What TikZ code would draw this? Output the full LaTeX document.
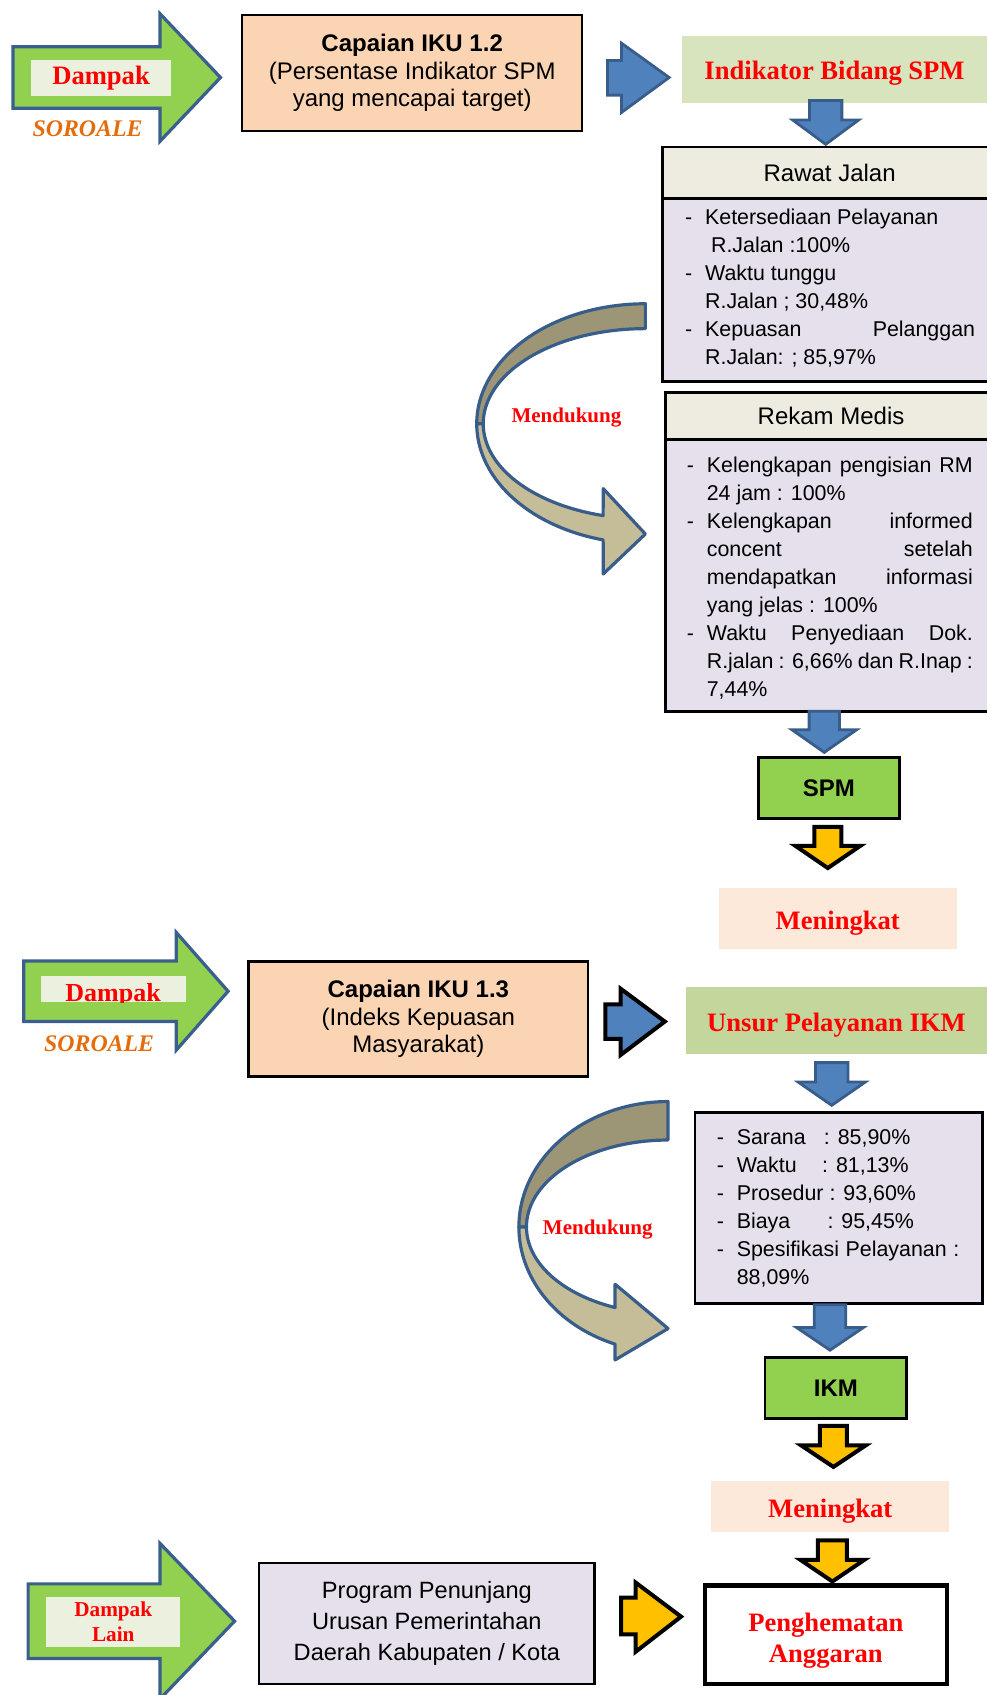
\documentclass[tikz,border=0pt]{standalone}
\usepackage{fontspec}
\setmainfont{Liberation Serif}
\setsansfont{Liberation Sans}

\definecolor{arrgreen}{HTML}{92D050}
\definecolor{arrline}{HTML}{3A5F8E}
\definecolor{dampakbg}{HTML}{EBF1DE}
\definecolor{peach}{HTML}{FBD4B4}
\definecolor{indgreen}{HTML}{D7E4BD}
\definecolor{unsurgreen}{HTML}{C3D69B}
\definecolor{headgray}{HTML}{EEECE1}
\definecolor{lavender}{HTML}{E5E0EC}
\definecolor{lightpeach}{HTML}{FDE9D9}
\definecolor{bluefill}{HTML}{4F81BD}
\definecolor{blueline}{HTML}{385D8A}
\definecolor{gold}{HTML}{FFC000}
\definecolor{bandback}{HTML}{9C9677}
\definecolor{bandfront}{HTML}{C4BD97}
\definecolor{soroale}{HTML}{E46C0A}

\newcommand{\itemdash}{\makebox[10pt][l]{-}}
\newcommand{\itemgap}{\hspace*{10pt}}

\begin{document}
\begin{tikzpicture}[x=0.5405pt,y=-0.5405pt,
  box/.style={draw=black, line width=1.3pt, inner sep=0pt, align=center},
  sanstxt/.style={font=\sffamily\fontsize{12}{13.8}\selectfont},
  redtxt/.style={font=\fontsize{13.3}{15.7}\selectfont\bfseries, text=red, align=center},
  redline/.style={redtxt, text height=10.6pt, text depth=0pt},
  bodytxt/.style={font=\sffamily\fontsize{10.7}{14}\selectfont, align=left, inner sep=0pt, anchor=north west},
  sorotxt/.style={font=\fontsize{11.9}{14}\selectfont\bfseries\itshape, text=soroale, anchor=base},
  dukungtxt/.style={font=\fontsize{10.5}{12}\selectfont\bfseries, text=red},
  greenarr/.style={fill=arrgreen, draw=arrline, line width=1.6pt},
  bluearr/.style={fill=bluefill, draw=blueline, line width=1.4pt},
  goldarr/.style={fill=gold, draw=black, line width=2pt},
  band/.style={draw=blueline, line width=1.6pt, line join=round}]
  \useasboundingbox (0,0) rectangle (913,1568);

  % dampak arrows on the left
  \foreach \xa/\xb/\xc/\cy/\bh/\hh in {12/148/204/71.7/28.5/59, 22/163/211/917/28/54.5, 26/148/217/1499.7/34.5/72} {
    \filldraw[greenarr] (\xa,\cy-\bh) -- (\xb,\cy-\bh) -- (\xb,\cy-\hh) -- (\xc,\cy)
      -- (\xb,\cy+\hh) -- (\xb,\cy+\bh) -- (\xa,\cy+\bh) -- cycle;
  }
  \node[fill=dampakbg, redtxt, inner sep=0pt, minimum width=69.7pt, minimum height=18pt] (dampak1) at (93.5,72.2) {Dampak};
  \node[fill=dampakbg, inner sep=0pt, minimum width=72.3pt, minimum height=12.8pt] (dampak2) at (104.8,914.75) {};
  \begin{scope}
    \clip (dampak2.south west) rectangle (dampak2.north east);
    \node[redtxt, font=\fontsize{13}{15}\selectfont\bfseries, anchor=base] (dampak2txt) at (104.6,926) {Dampak};
  \end{scope}
  \node[fill=dampakbg, redtxt, font=\fontsize{10.6}{12.5}\selectfont\bfseries, inner sep=0pt, minimum width=66.8pt, minimum height=24.8pt] (dampak3) at (104.75,1500.4) {Dampak\\Lain};
  \node[sorotxt] (soro1) at (81,126) {SOROALE};
  \node[sorotxt] (soro2) at (91.7,973) {SOROALE};

  % IKU boxes
  \node[box, fill=peach, sanstxt, minimum width=170pt, minimum height=57.9pt] (iku12) at (381.3,67.5)
    {\textbf{Capaian IKU 1.2}\\(Persentase Indikator SPM\\yang mencapai target)};
  \node[box, fill=peach, sanstxt, minimum width=169.7pt, minimum height=57.5pt] (iku13) at (387,942.8)
    {\textbf{Capaian IKU 1.3}\\(Indeks Kepuasan\\Masyarakat)};
  \node[box, fill=lavender, font=\sffamily\fontsize{11.8}{15.4}\selectfont, minimum width=167.7pt, minimum height=60.4pt] (prog) at (394.9,1501.9)
    {Program Penunjang\\Urusan Pemerintahan\\Daerah Kabupaten / Kota};

  % curved arrows
  \filldraw[band, fill=bandback] plot[domain=-90:-180, samples=40] ({597+156*cos(\x)},{392+111*sin(\x)})
    -- plot[domain=-180:-90, samples=40] ({597+150*cos(\x)},{392+88*sin(\x)}) -- cycle;
  \filldraw[band, fill=bandfront] plot[domain=180:104.5, samples=40] ({597+156*cos(\x)},{392+111*sin(\x)})
    -- (558,531) -- (597,494) -- (558,452)
    -- plot[domain=105.1:180, samples=40] ({597+150*cos(\x)},{392+88*sin(\x)}) -- cycle;
  \filldraw[band, fill=bandback] plot[domain=-90:-180, samples=40] ({618+138*cos(\x)},{1135+116*sin(\x)})
    -- plot[domain=-180:-90, samples=40] ({618+131*cos(\x)},{1135+80.4*sin(\x)}) -- cycle;
  \filldraw[band, fill=bandfront] plot[domain=180:110.8, samples=40] ({618+138*cos(\x)},{1135+116*sin(\x)})
    -- (569,1258) -- (618,1229) -- (569,1188)
    -- plot[domain=112:180, samples=40] ({618+131*cos(\x)},{1135+80.4*sin(\x)}) -- cycle;
  \node[dukungtxt] (dukung1) at (524,386) {Mendukung};
  \node[dukungtxt] (dukung2) at (553,1137.5) {Mendukung};

  % right column
  \node[fill=indgreen, redline, inner sep=0pt, minimum width=152.4pt, minimum height=33.3pt] (indspm) at (772,64.2) {Indikator Bidang SPM};
  \node[box, fill=headgray, sanstxt, minimum width=167pt, minimum height=25.6pt] (rjhead) at (767.5,159.7) {Rawat Jalan};
  \node[box, fill=lavender, minimum width=167pt, minimum height=91.7pt] (rjbody) at (767.5,268.2) {};
  \node[bodytxt] (rjtext) at (633.4,189.5) {\strut\itemdash Ketersediaan Pelayanan\\
    \itemgap\ R.Jalan :100\%\\
    \itemdash Waktu tunggu\\
    \itemgap R.Jalan ; 30,48\%\\
    \itemdash\makebox[135pt][s]{Kepuasan Pelanggan}\\
    \itemgap R.Jalan: ; 85,97\%};
  \node[box, fill=headgray, sanstxt, minimum width=165.7pt, minimum height=23.6pt] (rmhead) at (768.75,384.85) {Rekam Medis};
  \node[box, fill=lavender, minimum width=165.7pt, minimum height=135.8pt] (rmbody) at (768.75,532.35) {};
  \node[bodytxt] (rmtext) at (635,418.2) {\strut\itemdash\makebox[133pt][s]{Kelengkapan pengisian RM}\\
    \itemgap 24 jam : 100\%\\
    \itemdash\makebox[133pt][s]{Kelengkapan informed}\\
    \itemgap\makebox[133pt][s]{concent setelah}\\
    \itemgap\makebox[133pt][s]{mendapatkan informasi}\\
    \itemgap yang jelas : 100\%\\
    \itemdash\makebox[133pt][s]{Waktu Penyediaan Dok.}\\
    \itemgap\makebox[133pt][s]{R.jalan : 6,66\% dan R.Inap :}\\
    \itemgap 7,44\%};
  \node[box, fill=arrgreen, font=\sffamily\bfseries\fontsize{12}{14}\selectfont, minimum width=70.5pt, minimum height=30.3pt] (spm) at (766.75,729) {SPM};
  \node[fill=lightpeach, redline, inner sep=0pt, minimum width=118.9pt, minimum height=30.5pt] (naik1) at (775,850) {Meningkat};

  \node[fill=unsurgreen, redline, inner sep=0pt, minimum width=150.5pt, minimum height=33.8pt] (unsur) at (773.8,944) {Unsur Pelayanan IKM};
  \node[box, fill=lavender, minimum width=143.6pt, minimum height=95.5pt] (ikmbody) at (775.85,1117.35) {};
  \node[bodytxt] (ikmtext) at (662.7,1040.5) {\strut\itemdash\makebox[43.6pt][l]{Sarana}: 85,90\%\\
    \itemdash\makebox[42.7pt][l]{Waktu}: 81,13\%\\
    \itemdash Prosedur : 93,60\%\\
    \itemdash\makebox[45.4pt][l]{Biaya}: 95,45\%\\
    \itemdash\makebox[111.3pt][s]{Spesifikasi Pelayanan :}\\
    \itemgap 88,09\%};
  \node[box, fill=arrgreen, font=\sffamily\bfseries\fontsize{12}{14}\selectfont, minimum width=70.8pt, minimum height=30.5pt] (ikm) at (773.2,1283.8) {IKM};
  \node[fill=lightpeach, redline, inner sep=0pt, minimum width=118.9pt, minimum height=25.7pt] (naik2) at (768,1393.75) {Meningkat};
  \node[box, fill=white, line width=2.2pt, minimum width=121.1pt, minimum height=49.2pt] (hemat) at (764,1512.3) {};
  \node[redtxt] (hemattxt) at (764,1517.5) {Penghematan\\Anggaran};

  % block arrows
  \filldraw[bluearr] (562,56) -- (575,56) -- (575,40) -- (619,71.7) -- (575,104) -- (575,88) -- (562,88) -- cycle;
  \filldraw[bluearr, draw=black, line width=2pt] (560,929) -- (574,929) -- (574,914.5) -- (615,945) -- (574,976) -- (574,961) -- (560,961) -- cycle;
  \filldraw[goldarr] (574.5,1478) -- (588,1478) -- (588,1464) -- (630,1495.5) -- (588,1528) -- (588,1512) -- (574.5,1512) -- cycle;
  \foreach \cx/\ya/\yb/\yc/\bw/\hw in {763.8/93/111/133.5/15/30.5, 762.5/658/675/696/14/30, 769.4/983/1001/1022.5/15/31, 767.8/1207/1228/1249/14.5/31} {
    \filldraw[bluearr] (\cx-\bw,\ya) -- (\cx+\bw,\ya) -- (\cx+\bw,\yb) -- (\cx+\hw,\yb) -- (\cx,\yc)
      -- (\cx-\hw,\yb) -- (\cx-\bw,\yb) -- cycle;
  }
  \foreach \cx/\ya/\yb/\yc/\bw/\hw in {765.8/765/782.5/803/12.5/30, 771/1319/1337/1357/12.5/30, 770/1425/1443/1463/13.5/29.5} {
    \filldraw[goldarr] (\cx-\bw,\ya) -- (\cx+\bw,\ya) -- (\cx+\bw,\yb) -- (\cx+\hw,\yb) -- (\cx,\yc)
      -- (\cx-\hw,\yb) -- (\cx-\bw,\yb) -- cycle;
  }
\end{tikzpicture}
\end{document}
